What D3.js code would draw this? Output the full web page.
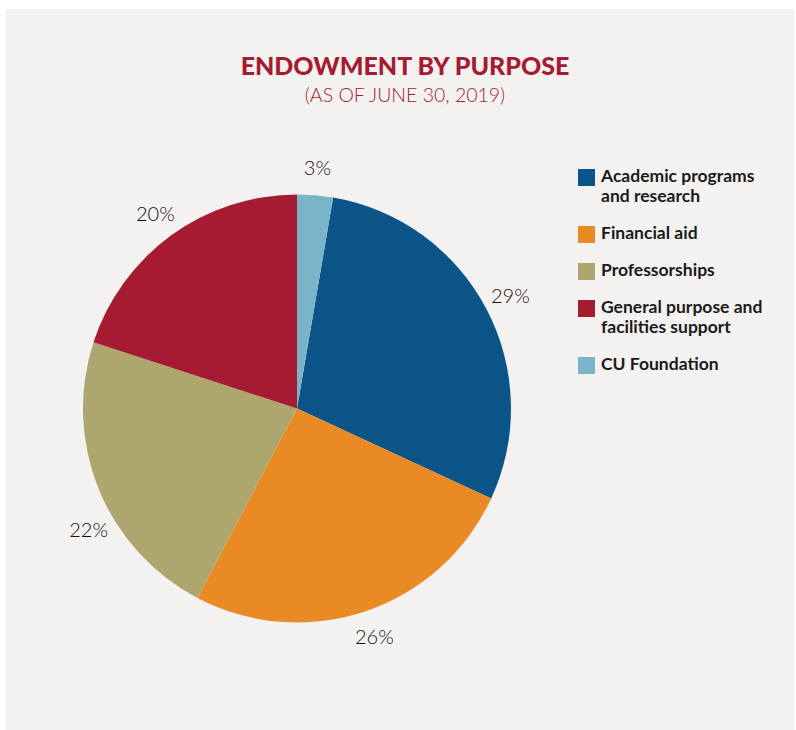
<!DOCTYPE html>
<html>
<head>
<meta charset="utf-8">
<script src="https://cdn.jsdelivr.net/npm/d3@7"></script>
<style>
  body { margin: 0; background: #ffffff; }
  svg { display: block; }
</style>
</head>
<body>
<div id="chart"></div>
<script>
// data
const categories = [
  "Academic programs and research",
  "Financial aid",
  "Professorships",
  "General purpose and facilities support",
  "CU Foundation"
];
const legendLines = [
  ["Academic programs", "and research"],
  ["Financial aid"],
  ["Professorships"],
  ["General purpose and", "facilities support"],
  ["CU Foundation"]
];
const shares = [29.2, 25.8, 22.3, 20.0, 2.7];
const shareLabels = ["29%", "26%", "22%", "20%", "3%"];
const colors = ["#0b5488", "#ea8a24", "#aea66f", "#a51c32", "#79b4c9"];

const width = 796, height = 730;
const crimson = "#a51c32";

const svg = d3.select("#chart").append("svg")
  .attr("width", width)
  .attr("height", height);

// panel
svg.append("rect")
  .attr("x", 6).attr("y", 9)
  .attr("width", 788).attr("height", 721)
  .attr("fill", "#f4f2f0");

// titles
svg.append("text")
  .attr("x", 405).attr("y", 75)
  .attr("text-anchor", "middle")
  .attr("font-family", "Lato, sans-serif")
  .attr("font-weight", 900)
  .attr("font-size", 25)
  .attr("fill", crimson)
  .text("ENDOWMENT BY PURPOSE");

svg.append("text")
  .attr("x", 405).attr("y", 102)
  .attr("text-anchor", "middle")
  .attr("font-family", "Lato, sans-serif")
  .attr("font-weight", 300)
  .attr("font-size", 19.5)
  .attr("fill", crimson)
  .text("(AS OF JUNE 30, 2019)");

// pie, the CU Foundation slice ends at 12 o'clock
const cx = 297, cy = 408.5, radius = 214;
const total = d3.sum(shares);
const start = 2 * Math.PI * shares[shares.length - 1] / total;

const pie = d3.pie()
  .sort(null)
  .startAngle(start)
  .endAngle(start + 2 * Math.PI);

const arcs = pie(shares);
const arc = d3.arc().innerRadius(0).outerRadius(radius);
const labelArc = d3.arc().innerRadius(241).outerRadius(241);

// small angular nudge for labels (radians), the 22% label sits a bit lower
const labelNudge = [0, 0, -0.14, 0, 0];

const g = svg.append("g")
  .attr("transform", "translate(" + cx + "," + cy + ")");

g.selectAll("path")
  .data(arcs)
  .join("path")
  .attr("d", arc)
  .attr("fill", (d, i) => colors[i]);

g.selectAll("text")
  .data(arcs)
  .join("text")
  .attr("transform", (d, i) => {
    const a = {startAngle: d.startAngle + labelNudge[i], endAngle: d.endAngle + labelNudge[i]};
    return "translate(" + labelArc.centroid(a) + ")";
  })
  .attr("text-anchor", "middle")
  .attr("dy", "0.35em")
  .attr("font-family", "Lato, sans-serif")
  .attr("font-weight", 300)
  .attr("font-size", 20)
  .attr("fill", "#111")
  .text((d, i) => shareLabels[i]);

// legend
const legend = svg.append("g").attr("transform", "translate(578,0)");
let itemY = 169;
legendLines.forEach((lines, i) => {
  const item = legend.append("g").attr("transform", "translate(0," + itemY + ")");
  item.append("rect")
    .attr("width", 17).attr("height", 17)
    .attr("fill", colors[i]);
  const t = item.append("text")
    .attr("x", 23).attr("y", 13)
    .attr("font-family", "Lato, sans-serif")
    .attr("font-weight", 700)
    .attr("font-size", 17.5)
    .attr("fill", "#1a1a1a");
  lines.forEach((line, j) => {
    t.append("tspan").attr("x", 23).attr("dy", j === 0 ? 0 : 20).text(line);
  });
  itemY += lines.length * 20 + 17;
});
</script>
</body>
</html>
